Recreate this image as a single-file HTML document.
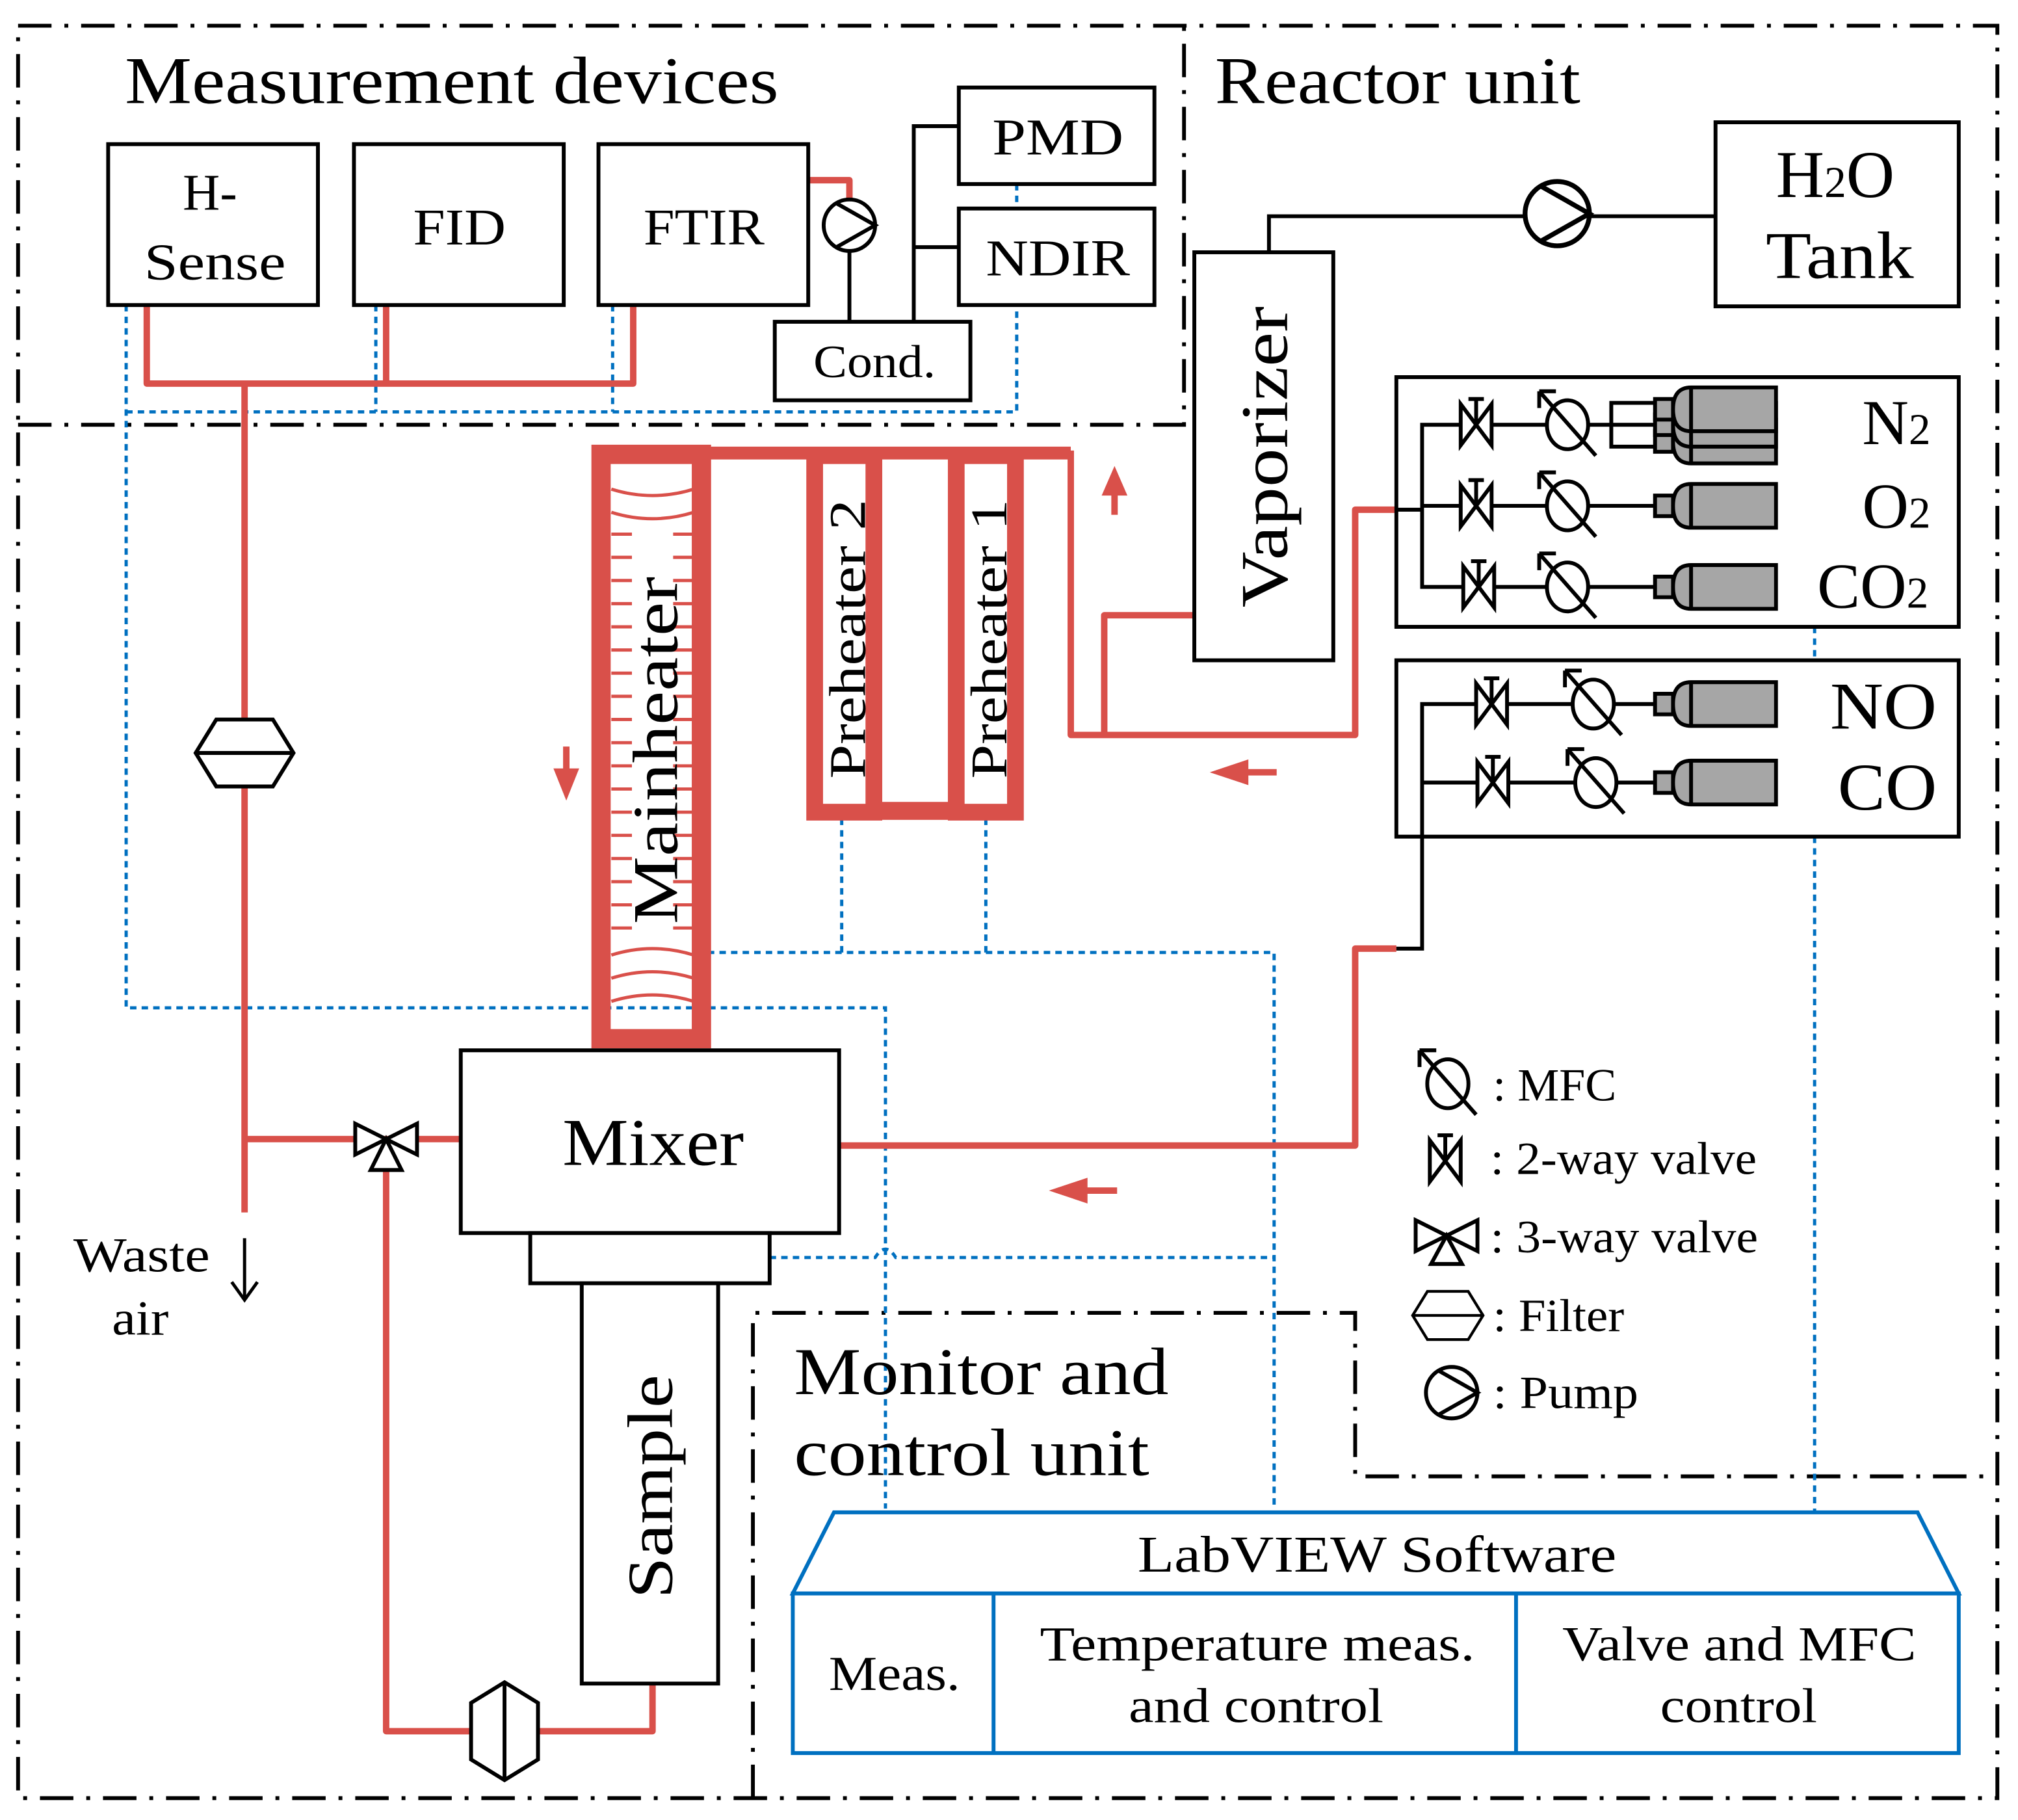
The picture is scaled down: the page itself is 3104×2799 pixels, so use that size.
<!DOCTYPE html>
<html><head><meta charset="utf-8"><style>html,body{margin:0;padding:0;background:#fff}svg{display:block}</style></head><body>
<svg xmlns="http://www.w3.org/2000/svg" width="3104" height="2799" viewBox="0 0 1568 1414" font-family="'Liberation Serif', serif">
<defs>
<g id="v2" stroke="#000" stroke-width="3" fill="#fff"><path d="M-12,-16 L12,16 L12,-16 L-12,16 Z"/><line x1="0" y1="-20" x2="0" y2="0"/><line x1="-6" y1="-20" x2="6" y2="-20"/></g>
<g id="mfc" stroke="#000" stroke-width="3" fill="none"><ellipse rx="16" ry="19" fill="#fff"/><line x1="-22" y1="-26" x2="22" y2="24"/><line x1="-22" y1="-26" x2="-9" y2="-26"/><line x1="-22" y1="-26" x2="-22" y2="-13"/></g>
<g id="cyl" stroke="#000" stroke-width="3" fill="#a6a6a6"><rect x="0" y="-8" width="14" height="16"/><path d="M28,-17 L94,-17 L94,17 L28,17 Q14,17 14,0 Q14,-17 28,-17 Z"/><line x1="28" y1="-17" x2="28" y2="17"/></g>
<g id="pump" stroke="#000" stroke-width="3" fill="#fff"><circle r="20"/><polyline points="-10,-17 20,0 -10,17" fill="none"/></g>
<g id="filt" stroke="#000" stroke-width="3" fill="#fff"><polygon points="-38,0 -22,-26 22,-26 38,0 22,26 -22,26"/><line x1="-38" y1="0" x2="38" y2="0"/></g>
</defs>
<rect width="1568" height="1414" fill="#fff"/>
<g stroke="#000" stroke-width="3" fill="none" stroke-dasharray="26,10,3,10">
<rect x="14" y="20" width="1538" height="1377"/>
<polyline points="14,330 920,330 920,20"/>
<polyline points="585,1397 585,1020 1053,1020 1053,1147 1552,1147"/>
</g>
<g stroke="#0070c0" stroke-width="2.5" fill="none" stroke-dasharray="5,4">
<polyline points="98,237 98,783 688,783 688,1172"/>
<polyline points="292,237 292,320"/><polyline points="476,237 476,320"/>
<polyline points="98,320 790,320 790,143"/>
<polyline points="550,740 990,740 990,1172"/>
<line x1="654" y1="636" x2="654" y2="740"/><line x1="766" y1="636" x2="766" y2="740"/>
<path d="M598,977 L680,977 Q688,964 696,977 L990,977"/>
<line x1="1410" y1="487" x2="1410" y2="513"/><line x1="1410" y1="650" x2="1410" y2="1175"/>
</g>
<g stroke="#d9504a" stroke-width="5" fill="none" stroke-linejoin="round">
<polyline points="114,237 114,298 492,298 492,237"/>
<line x1="300" y1="237" x2="300" y2="298"/>
<line x1="190" y1="298" x2="190" y2="942"/>
<polyline points="190,885 358,885"/>
<polyline points="628,140 660,140 660,160"/>
<polyline points="832,350 832,571 1053,571 1053,396 1085,396"/>
<polyline points="928,478 858,478 858,571"/>
<polyline points="652,890 1053,890 1053,737 1085,737"/>
<polyline points="507,1308 507,1345 300,1345 300,895"/>
<line x1="866" y1="400" x2="866" y2="375"/><path d="M856,385 L866,362 L876,385 Z" fill="#d9504a" stroke="none"/>
<line x1="440" y1="580" x2="440" y2="606"/><path d="M430,597 L440,622 L450,597 Z" fill="#d9504a" stroke="none"/>
<line x1="992" y1="600" x2="962" y2="600"/><path d="M970,590 L940,600 L970,610 Z" fill="#d9504a" stroke="none"/>
<line x1="868" y1="925" x2="838" y2="925"/><path d="M845,915 L815,925 L845,935 Z" fill="#d9504a" stroke="none"/>
</g>
<g stroke="#d9504a" fill="none">
<rect x="467" y="353" width="78" height="454" stroke-width="15"/>
<line x1="545" y1="352" x2="832" y2="352" stroke-width="10"/>
<rect x="633" y="354" width="46" height="277" stroke-width="13"/>
<rect x="743" y="354" width="46" height="277" stroke-width="13"/>
<line x1="679" y1="630" x2="743" y2="630" stroke-width="14"/>
<g stroke-width="2.5">
<path d="M475,380 Q507,390 539,380 M475,398 Q507,408 539,398 M475,760 Q507,750 539,760 M475,778 Q507,768 539,778 M475,742 Q507,732 539,742"/>
<path d="M475,415 h16 M523,415 h16 M475,433 h16 M523,433 h16 M475,451 h16 M523,451 h16 M475,469 h16 M523,469 h16 M475,487 h16 M523,487 h16 M475,505 h16 M523,505 h16 M475,523 h16 M523,523 h16 M475,541 h16 M523,541 h16 M475,559 h16 M523,559 h16 M475,577 h16 M523,577 h16 M475,595 h16 M523,595 h16 M475,613 h16 M523,613 h16 M475,631 h16 M523,631 h16 M475,649 h16 M523,649 h16 M475,667 h16 M523,667 h16 M475,685 h16 M523,685 h16 M475,703 h16 M523,703 h16 M475,721 h16 M523,721 h16"/>
</g>
</g>
<g fill="#000" lengthAdjust="spacingAndGlyphs">
<text transform="translate(526,718) rotate(-90)" font-size="50" textLength="270" lengthAdjust="spacingAndGlyphs">Mainheater</text>
<text transform="translate(672,605) rotate(-90)" font-size="40" textLength="217" lengthAdjust="spacingAndGlyphs">Preheater 2</text>
<text transform="translate(782,605) rotate(-90)" font-size="40" textLength="217" lengthAdjust="spacingAndGlyphs">Preheater 1</text>
</g>
<g stroke="#000" stroke-width="3" fill="none">
<line x1="660" y1="190" x2="660" y2="250"/>
<polyline points="745,98 710,98 710,250"/><line x1="710" y1="192" x2="745" y2="192"/>
<polyline points="986,196 986,168 1333,168"/>
<polyline points="1085,396 1105,396"/>
<polyline points="1288,330 1105,330 1105,456 1288,456"/><line x1="1105" y1="393" x2="1288" y2="393"/>
<polyline points="1085,737 1105,737 1105,547 1288,547"/><line x1="1105" y1="608" x2="1288" y2="608"/>
<rect x="1252" y="313" width="36" height="34"/>
</g>
<g stroke="#000" stroke-width="3" fill="#fff">
<rect x="84" y="112" width="163" height="125"/><rect x="275" y="112" width="163" height="125"/><rect x="465" y="112" width="163" height="125"/>
<rect x="745" y="68" width="152" height="75"/><rect x="745" y="162" width="152" height="75"/>
<rect x="602" y="250" width="152" height="61"/>
<rect x="928" y="196" width="108" height="317"/>
<rect x="1333" y="95" width="189" height="143"/>
<rect x="1085" y="293" width="437" height="194" fill="none"/><rect x="1085" y="513" width="437" height="137" fill="none"/>
<rect x="358" y="816" width="294" height="142"/><rect x="412" y="958" width="186" height="39"/><rect x="452" y="997" width="106" height="311"/>
</g>
<use href="#pump" x="660" y="175"/>
<g transform="translate(1210,166) scale(1.25)"><use href="#pump"/></g>
<use href="#filt" x="190" y="585"/>
<g transform="translate(392,1345) rotate(90)"><use href="#filt"/></g>
<g stroke="#000" stroke-width="3" fill="#fff"><path d="M276,873 L324,897 L324,873 L276,897 Z"/><polygon points="300,885 288,909 312,909"/></g>
<use href="#v2" x="1147" y="330"/><use href="#v2" x="1147" y="393"/><use href="#v2" x="1149" y="456"/>
<use href="#mfc" x="1218" y="330"/><use href="#mfc" x="1218" y="393"/><use href="#mfc" x="1218" y="456"/>
<use href="#v2" x="1159" y="547"/><use href="#v2" x="1160" y="608"/>
<use href="#mfc" x="1238" y="547"/><use href="#mfc" x="1240" y="608"/>
<use href="#cyl" x="1286" y="393"/><use href="#cyl" x="1286" y="456"/><use href="#cyl" x="1286" y="547"/><use href="#cyl" x="1286" y="608"/>
<use href="#cyl" x="1286" y="343"/><use href="#cyl" x="1286" y="330"/><use href="#cyl" x="1286" y="318"/>
<g stroke="#0070c0" stroke-width="3" fill="#fff">
<polygon points="648,1175 1490,1175 1522,1238 616,1238"/>
<rect x="616" y="1238" width="906" height="124"/>
<line x1="772" y1="1238" x2="772" y2="1362"/><line x1="1178" y1="1238" x2="1178" y2="1362"/>
</g>
<use href="#mfc" x="1125" y="842"/>
<use href="#v2" x="1123" y="902"/>
<g stroke="#000" stroke-width="3" fill="#fff"><path d="M1100,948 L1148,972 L1148,948 L1100,972 Z"/><polygon points="1124,960 1112,982 1136,982"/></g>
<g transform="translate(1125,1022) scale(0.72)"><use href="#filt"/></g>
<use href="#pump" x="1128" y="1082"/>
<path d="M190,962 L190,1008 M180,996 L190,1010 L200,996" stroke="#000" stroke-width="2.5" fill="none"/>
<g fill="#000">
<text x="97" y="80" font-size="52" textLength="508" lengthAdjust="spacingAndGlyphs">Measurement devices</text>
<text x="944" y="80" font-size="52" textLength="284" lengthAdjust="spacingAndGlyphs">Reactor unit</text>
<text x="142" y="163" font-size="40">H-</text>
<text x="112" y="217" font-size="40" textLength="110" lengthAdjust="spacingAndGlyphs">Sense</text>
<text x="321" y="190" font-size="40" textLength="72" lengthAdjust="spacingAndGlyphs">FID</text>
<text x="500" y="190" font-size="40" textLength="94" lengthAdjust="spacingAndGlyphs">FTIR</text>
<text x="771" y="120" font-size="40" textLength="102" lengthAdjust="spacingAndGlyphs">PMD</text>
<text x="766" y="214" font-size="40" textLength="112" lengthAdjust="spacingAndGlyphs">NDIR</text>
<text x="632" y="293" font-size="36" textLength="95" lengthAdjust="spacingAndGlyphs">Cond.</text>
<text x="1380" y="153" font-size="52">H<tspan font-size="34">2</tspan>O</text>
<text x="1372" y="216" font-size="52" textLength="115" lengthAdjust="spacingAndGlyphs">Tank</text>
<text transform="translate(1000,472) rotate(-90)" font-size="52" textLength="234" lengthAdjust="spacingAndGlyphs">Vaporizer</text>
<text x="1447" y="345" font-size="50">N<tspan font-size="34">2</tspan></text>
<text x="1447" y="410" font-size="50">O<tspan font-size="34">2</tspan></text>
<text x="1412" y="472" font-size="50">CO<tspan font-size="34">2</tspan></text>
<text x="1422" y="566" font-size="52" textLength="83" lengthAdjust="spacingAndGlyphs">NO</text>
<text x="1428" y="629" font-size="52" textLength="77" lengthAdjust="spacingAndGlyphs">CO</text>
<text x="437" y="905" font-size="52" textLength="141" lengthAdjust="spacingAndGlyphs">Mixer</text>
<text transform="translate(522,1242) rotate(-90)" font-size="50" textLength="174" lengthAdjust="spacingAndGlyphs">Sample</text>
<text x="57" y="988" font-size="38" textLength="106" lengthAdjust="spacingAndGlyphs">Waste</text>
<text x="87" y="1037" font-size="38" textLength="44" lengthAdjust="spacingAndGlyphs">air</text>
<text x="617" y="1083" font-size="52" textLength="291" lengthAdjust="spacingAndGlyphs">Monitor and</text>
<text x="617" y="1146" font-size="52" textLength="276" lengthAdjust="spacingAndGlyphs">control unit</text>
<text x="884" y="1221" font-size="40" textLength="372" lengthAdjust="spacingAndGlyphs">LabVIEW Software</text>
<text x="644" y="1313" font-size="38" textLength="102" lengthAdjust="spacingAndGlyphs">Meas.</text>
<text x="808" y="1290" font-size="38" textLength="338" lengthAdjust="spacingAndGlyphs">Temperature meas.</text>
<text x="877" y="1338" font-size="38" textLength="198" lengthAdjust="spacingAndGlyphs">and control</text>
<text x="1214" y="1290" font-size="38" textLength="275" lengthAdjust="spacingAndGlyphs">Valve and MFC</text>
<text x="1290" y="1338" font-size="38" textLength="122" lengthAdjust="spacingAndGlyphs">control</text>
<text x="1160" y="855" font-size="36" textLength="96" lengthAdjust="spacingAndGlyphs">: MFC</text>
<text x="1158" y="912" font-size="36" textLength="207" lengthAdjust="spacingAndGlyphs">: 2-way valve</text>
<text x="1158" y="973" font-size="36" textLength="208" lengthAdjust="spacingAndGlyphs">: 3-way valve</text>
<text x="1160" y="1034" font-size="36" textLength="102" lengthAdjust="spacingAndGlyphs">: Filter</text>
<text x="1160" y="1094" font-size="36" textLength="113" lengthAdjust="spacingAndGlyphs">: Pump</text>
</g>
</svg>
</body></html>
